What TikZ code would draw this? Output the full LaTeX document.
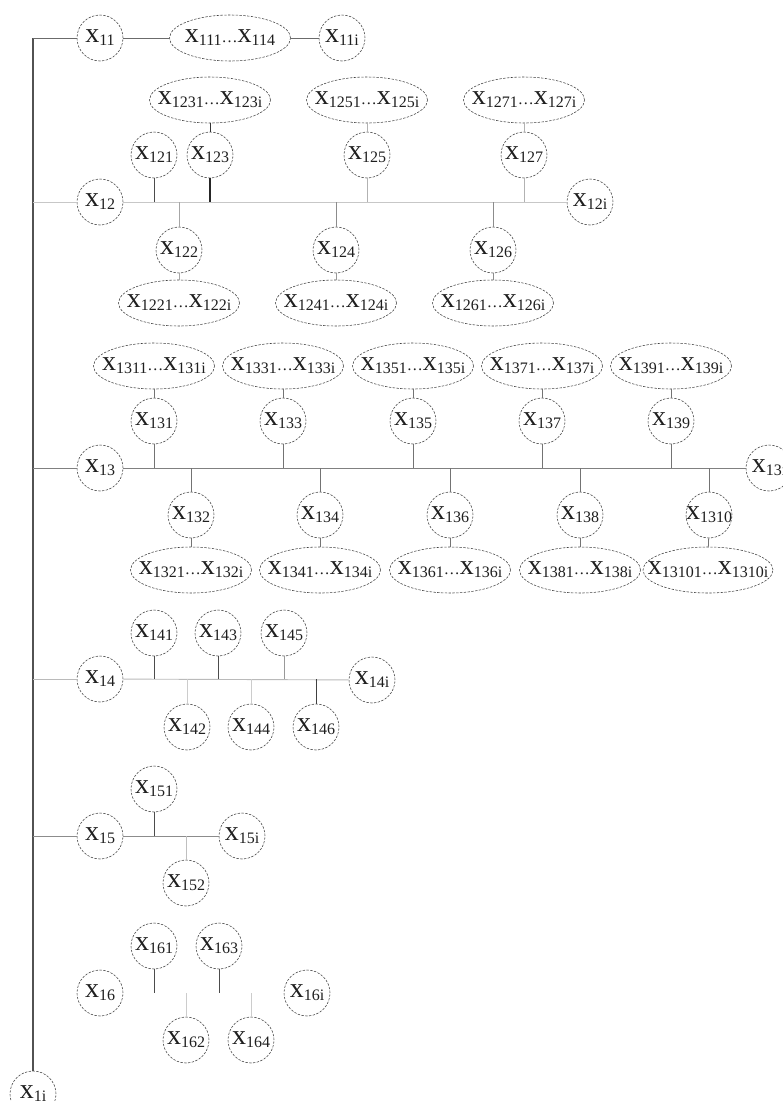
\documentclass[tikz,border=0pt]{standalone}
\usepackage{fontspec}
\setmainfont{Liberation Serif}
\usetikzlibrary{shapes.geometric}
\newcommand{\xv}[1]{x\raisebox{-0.11em}{\fontsize{16}{16}\selectfont #1}}
\newcommand{\xr}[2]{\makebox[0pt][c]{\xv{#1}{\fontsize{16}{16}\selectfont\textellipsis}\xv{#2}}}
\newcommand{\xc}[1]{\makebox[0pt][c]{\xv{#1}}}
\tikzset{
  bnode/.style={draw=black!75, dash pattern=on 2.4pt off 1.4pt, line width=0.55pt,
    inner sep=0pt, text=black!88, font=\fontsize{28}{28}\selectfont},
  cn/.style={bnode, circle, minimum size=46pt},
  en/.style={bnode, ellipse, minimum width=121pt, minimum height=46pt},
  ln/.style={line width=0.9pt, draw=#1},
  ln/.default=black!50
}
\begin{document}
\begin{tikzpicture}[x=1pt,y=-1pt]
\useasboundingbox[fill=white] (0,0) rectangle (783,1101);
% main vertical
\coordinate (top) at (33,38);
\coordinate (v12) at (33,202);
\coordinate (v13) at (33,468);
\coordinate (v14) at (33,679);
\coordinate (v15) at (33,836);
\node[cn] (x1i) at (33,1094) {\xc{1i}};
\draw[line width=1.3pt, draw=black!68] (top) -- (x1i);

% ---------- row 11
\node[cn] (x11) at (100,38) {\xc{11}};
\node[en] (e11) at (230,38) {\xr{111}{114}};
\node[cn] (x11i) at (342,38) {\xc{11i}};
\draw[ln=black!58] (top) -- (x11);
\draw[ln=black!58] (x11) -- (e11);
\draw[ln=black!58] (e11) -- (x11i);

% ---------- row 12
\node[cn] (x12) at (100,202) {\xc{12}};
\node[cn] (x12i) at (590,202) {\xc{12i}};
\node[cn] (x121) at (154,155) {\xc{121}};
\node[cn] (x123) at (210,155) {\xc{123}};
\node[cn] (x125) at (367,155) {\xc{125}};
\node[cn] (x127) at (524,155) {\xc{127}};
\node[en] (e123) at (210,100) {\xr{1231}{123i}};
\node[en] (e125) at (367,100) {\xr{1251}{125i}};
\node[en] (e127) at (524,100) {\xr{1271}{127i}};
\node[cn] (x122) at (179,250) {\xc{122}};
\node[cn] (x124) at (336,250) {\xc{124}};
\node[cn] (x126) at (493,250) {\xc{126}};
\node[en] (e122) at (179,303) {\xr{1221}{122i}};
\node[en] (e124) at (336,303) {\xr{1241}{124i}};
\node[en] (e126) at (493,303) {\xr{1261}{126i}};
\draw[ln=black!22] (v12) -- (x12);
\draw[ln=black!22] (x12) -- (x12i);
\draw[ln=black!70] (x121) -- (x121 |- x12);
\draw[ln=black!85, line width=1.2pt] (x123) -- (x123 |- x12);
\draw[ln=black!30] (x125) -- (x125 |- x12);
\draw[ln=black!30] (x127) -- (x127 |- x12);
\draw[ln=black!35] (x122) -- (x122 |- x12);
\draw[ln=black!45] (x124) -- (x124 |- x12);
\draw[ln=black!45] (x126) -- (x126 |- x12);
\draw[ln=black!80] (e123) -- (x123);
\draw[ln=black!30] (e125) -- (x125);
\draw[ln=black!30] (e127) -- (x127);
\draw[ln=black!35] (x122) -- (e122);
\draw[ln=black!40] (x124) -- (e124);
\draw[ln=black!45] (x126) -- (e126);

% ---------- row 13
\node[cn] (x13) at (100,468) {\xc{13}};
\node[cn] (x13i) at (769,468) {\xc{13i}};
\node[cn] (x131) at (154,421) {\xc{131}};
\node[cn] (x133) at (283,421) {\xc{133}};
\node[cn] (x135) at (413,421) {\xc{135}};
\node[cn] (x137) at (542,421) {\xc{137}};
\node[cn] (x139) at (671,421) {\xc{139}};
\node[en] (e131) at (154,366) {\xr{1311}{131i}};
\node[en] (e133) at (283,366) {\xr{1331}{133i}};
\node[en] (e135) at (413,366) {\xr{1351}{135i}};
\node[en] (e137) at (542,366) {\xr{1371}{137i}};
\node[en] (e139) at (671,366) {\xr{1391}{139i}};
\node[cn] (x132) at (191,515) {\xc{132}};
\node[cn] (x134) at (320,515) {\xc{134}};
\node[cn] (x136) at (450,515) {\xc{136}};
\node[cn] (x138) at (580,515) {\xc{138}};
\node[cn] (x1310) at (709,515) {\xc{1310}};
\node[en] (e132) at (191,570) {\xr{1321}{132i}};
\node[en] (e134) at (320,570) {\xr{1341}{134i}};
\node[en] (e136) at (450,570) {\xr{1361}{136i}};
\node[en] (e138) at (580,570) {\xr{1381}{138i}};
\node[en, minimum width=130pt] (e1310) at (708,570) {\xr{13101}{1310i}};
\draw[ln=black!50] (v13) -- (x13);
\draw[ln=black!50] (x13) -- (x13i);
\foreach \n in {131,133,135,137,139,132,134,136,138,1310}{
  \draw[ln=black!55] (x\n) -- (x\n |- x13);
  \draw[ln=black!55] (e\n) -- (x\n);
}

% ---------- row 14
\node[cn] (x14) at (100,679) {\xc{14}};
\node[cn] (x14i) at (372,680) {\xc{14i}};
\node[cn] (x141) at (154,633) {\xc{141}};
\node[cn] (x143) at (218,633) {\xc{143}};
\node[cn] (x145) at (284,633) {\xc{145}};
\node[cn] (x142) at (187,727) {\xc{142}};
\node[cn] (x144) at (251,727) {\xc{144}};
\node[cn] (x146) at (316,727) {\xc{146}};
\draw[ln=black!27] (v14) -- (x14);
\draw[ln=black!27] (x14) -- (x14i);
\draw[ln=black!70] (x141) -- (x141 |- x14);
\draw[ln=black!70] (x143) -- (x143 |- x14);
\draw[ln=black!40] (x145) -- (x145 |- x14);
\draw[ln=black!20] (x142) -- (x142 |- x14);
\draw[ln=black!20] (x144) -- (x144 |- x14);
\draw[ln=black!75] (x146) -- (x146 |- x14);

% ---------- row 15
\node[cn] (x15) at (100,836) {\xc{15}};
\node[cn] (x15i) at (242,836) {\xc{15i}};
\node[cn] (x151) at (154,789) {\xc{151}};
\node[cn] (x152) at (186,883) {\xc{152}};
\draw[ln=black!45] (v15) -- (x15);
\draw[ln=black!45] (x15) -- (x15i);
\draw[ln=black!70] (x151) -- (x151 |- x15);
\draw[ln=black!25] (x152) -- (x152 |- x15);

% ---------- row 16
\node[cn] (x16) at (100,993) {\xc{16}};
\node[cn] (x16i) at (307,993) {\xc{16i}};
\node[cn] (x161) at (154,946) {\xc{161}};
\node[cn] (x163) at (219,946) {\xc{163}};
\node[cn] (x162) at (186,1040) {\xc{162}};
\node[cn] (x164) at (251,1040) {\xc{164}};
\coordinate (s161) at (154,993);
\coordinate (s163) at (219,993);
\coordinate (s162) at (186,993);
\coordinate (s164) at (251,993);
\draw[ln=black!70] (x161) -- (s161);
\draw[ln=black!70] (x163) -- (s163);
\draw[ln=black!20] (x162) -- (s162);
\draw[ln=black!20] (x164) -- (s164);
\end{tikzpicture}
\end{document}
